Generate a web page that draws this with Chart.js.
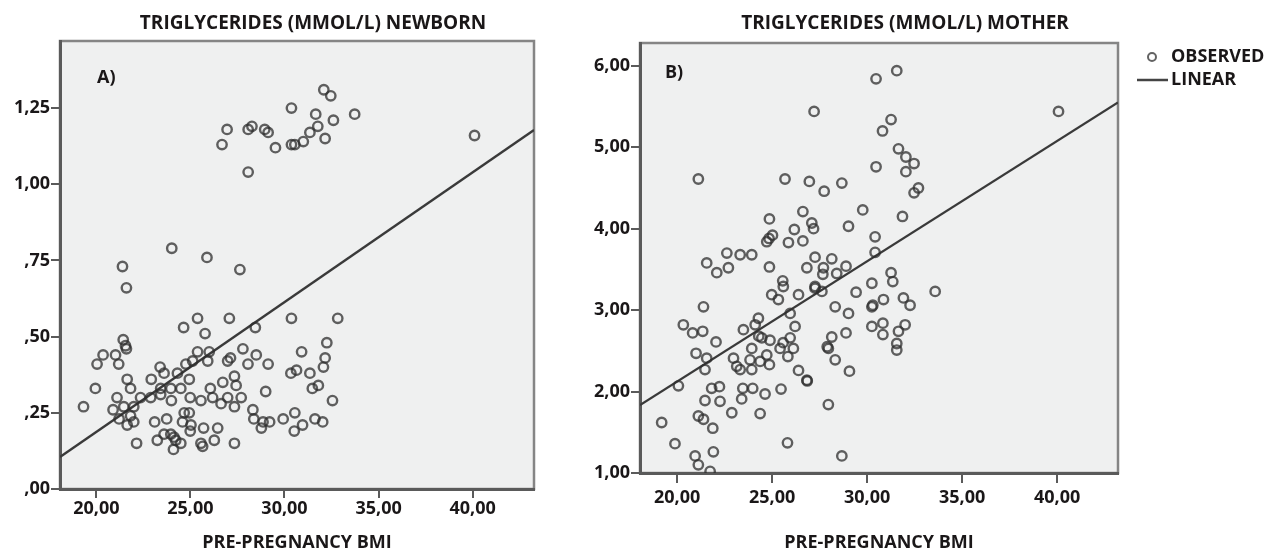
<!DOCTYPE html>
<html>
<head>
<meta charset="utf-8">
<script src="https://cdn.jsdelivr.net/npm/chart.js@4"></script>
<style>
  body { margin: 0; background: #fff; }
  #wrap { position: relative; width: 1274px; height: 554px; }
  #chartA { position: absolute; left: 0; top: 0; }
  #chartB { position: absolute; left: 560px; top: 0; }
</style>
</head>
<body>
<div id="wrap">
  <canvas id="chartA" width="560" height="554"></canvas>
  <canvas id="chartB" width="714" height="554"></canvas>
</div>
<script>
// pre-pregnancy BMI vs newborn triglycerides (panel A)
const bmiA = [40.1, 21.39, 21.6, 24.01, 25.88, 27.63, 26.68, 26.95, 28.07, 28.27, 28.07, 28.95, 29.13, 29.52,
  30.37, 30.37, 30.55, 31.0, 31.35, 31.66, 31.77, 32.16, 32.09, 32.46, 32.6, 33.73,
  25.38, 27.07, 30.37, 32.83, 24.64, 28.45, 25.78, 21.43, 21.55, 21.6, 32.25, 20.36, 21.02, 20.04, 21.19,
  25.38, 26.0, 25.92, 25.12, 24.76, 27.79, 28.5, 27.13, 26.98, 28.06, 29.13, 30.91, 32.16, 32.07, 30.34,
  30.64, 31.35, 31.8, 31.48, 32.55, 29.0, 23.39, 23.6, 24.31, 24.94, 22.92, 21.64, 19.95, 21.82, 23.42,
  23.96, 24.49, 26.06, 26.72, 27.34, 27.43, 21.1, 22.35, 22.89, 23.42, 23.99, 24.99, 25.56, 26.18, 26.63,
  26.98, 27.7, 27.34, 19.32, 20.89, 21.46, 21.99, 21.82, 28.32, 24.67, 24.94, 30.55, 21.21, 21.64, 21.99,
  23.1, 23.74, 24.58, 25.03, 25.7, 26.45, 28.37, 28.86, 28.77, 29.21, 29.93, 30.96, 30.52, 31.62, 32.03,
  24.99, 22.14, 23.24, 23.6, 23.96, 24.13, 24.22, 24.49, 24.1, 25.56, 25.65, 26.27, 27.34];
const tgA = [1.16, 0.73, 0.66, 0.79, 0.76, 0.72, 1.13, 1.18, 1.18, 1.19, 1.04, 1.18, 1.17, 1.12,
  1.25, 1.13, 1.13, 1.14, 1.17, 1.23, 1.19, 1.15, 1.31, 1.29, 1.21, 1.23,
  0.56, 0.56, 0.56, 0.56, 0.53, 0.53, 0.51, 0.49, 0.47, 0.46, 0.48, 0.44, 0.44, 0.41, 0.41,
  0.45, 0.45, 0.42, 0.42, 0.41, 0.46, 0.44, 0.43, 0.42, 0.41, 0.41, 0.45, 0.43, 0.40, 0.38,
  0.39, 0.38, 0.34, 0.33, 0.29, 0.32, 0.40, 0.38, 0.38, 0.36, 0.36, 0.36, 0.33, 0.33, 0.33,
  0.33, 0.33, 0.33, 0.35, 0.37, 0.34, 0.30, 0.30, 0.30, 0.31, 0.29, 0.30, 0.29, 0.30, 0.28,
  0.30, 0.30, 0.27, 0.27, 0.26, 0.27, 0.27, 0.24, 0.26, 0.25, 0.25, 0.25, 0.23, 0.21, 0.22,
  0.22, 0.23, 0.22, 0.21, 0.20, 0.20, 0.23, 0.22, 0.20, 0.22, 0.23, 0.21, 0.19, 0.23, 0.22,
  0.19, 0.15, 0.16, 0.18, 0.18, 0.17, 0.16, 0.15, 0.13, 0.15, 0.14, 0.16, 0.15];
const fitA = [[18.07, 0.105], [43.26, 1.178]];

// pre-pregnancy BMI vs maternal triglycerides (panel B)
const bmiB = [21.12, 27.21, 30.47, 31.56, 31.26, 30.81, 31.65, 32.04, 32.47, 32.04, 30.47, 32.7, 32.47, 40.07,
  25.68, 26.96, 27.74, 28.67, 31.86, 29.77, 24.86, 26.62, 27.09, 27.18, 26.17, 29.02, 30.42, 25.02, 24.84,
  24.72, 25.86, 26.62, 30.42, 22.62, 23.32, 23.93, 21.56, 22.7, 22.09, 24.86, 27.26, 28.14, 26.83, 27.7,
  27.67, 28.89, 28.4, 31.26, 31.35, 30.25, 25.56, 25.59, 27.26, 33.58, 29.42,
  21.39, 20.33, 20.82, 21.35, 21.0, 21.56, 21.47, 22.05, 20.07, 21.82, 22.23, 21.47, 22.26, 19.19, 21.12,
  21.39, 21.88, 19.89, 21.91, 20.95, 21.12, 21.74, 22.88, 23.46, 23.4, 23.98, 24.37, 24.63, 25.47, 25.81,
  27.96, 28.67, 29.07, 26.83, 26.39, 28.32, 27.96, 28.14, 28.89, 28.32, 29.02, 30.25, 30.25, 30.83, 30.86,
  30.83, 31.91, 32.26, 32.0, 31.65, 31.56, 31.56, 22.97, 23.14, 23.32, 23.93, 23.84, 23.93, 23.49, 24.11,
  24.28, 24.46, 24.37, 24.89, 24.86, 24.72, 24.98, 25.33, 25.42, 25.95, 26.21, 25.95, 26.12, 25.83, 26.39,
  27.26, 27.62, 24.3, 25.58, 26.85, 27.9, 30.3];
const tgB = [4.61, 5.44, 5.84, 5.94, 5.34, 5.20, 4.98, 4.88, 4.80, 4.70, 4.76, 4.50, 4.44, 5.44,
  4.61, 4.58, 4.46, 4.56, 4.15, 4.23, 4.12, 4.21, 4.07, 4.00, 3.99, 4.03, 3.90, 3.92, 3.88,
  3.84, 3.83, 3.85, 3.71, 3.70, 3.68, 3.68, 3.58, 3.52, 3.46, 3.53, 3.65, 3.63, 3.52, 3.52,
  3.44, 3.54, 3.45, 3.46, 3.35, 3.33, 3.36, 3.29, 3.29, 3.23, 3.22,
  3.04, 2.82, 2.72, 2.74, 2.47, 2.41, 2.27, 2.61, 2.07, 2.04, 2.06, 1.89, 1.88, 1.62, 1.70,
  1.66, 1.55, 1.36, 1.26, 1.21, 1.10, 1.02, 1.74, 2.04, 1.91, 2.04, 1.73, 1.97, 2.03, 1.37,
  1.84, 1.21, 2.25, 2.14, 2.26, 2.39, 2.53, 2.67, 2.72, 3.04, 2.96, 3.04, 2.80, 2.84, 3.13,
  2.70, 3.15, 3.06, 2.82, 2.74, 2.59, 2.51, 2.41, 2.31, 2.27, 2.27, 2.39, 2.53, 2.76, 2.82,
  2.90, 2.66, 2.37, 2.63, 2.33, 2.45, 3.19, 3.13, 2.53, 2.96, 2.80, 2.66, 2.53, 2.43, 3.19,
  3.27, 3.23, 2.68, 2.60, 2.13, 2.55, 3.06];
const fitB = [[18.05, 1.835], [43.2, 5.55]];

const xTickVals = [20, 25, 30, 35, 40];
const xTickLabels = ['20,00', '25,00', '30,00', '35,00', '40,00'];
const yTickValsA = [0, 0.25, 0.5, 0.75, 1, 1.25];
const yTickLabelsA = [',00', ',25', ',50', ',75', '1,00', '1,25'];
const yTickValsB = [1, 2, 3, 4, 5, 6];
const yTickLabelsB = ['1,00', '2,00', '3,00', '4,00', '5,00', '6,00'];
const legendLabels = ['OBSERVED', 'LINEAR'];

const INK = '#1a1718';
const AXIS = '#5a5a5a';
const FONT = "'Open Sans', 'Noto Sans', sans-serif";
const FS = 18;

Chart.defaults.font.family = FONT;
Chart.defaults.font.weight = 'bold';
Chart.defaults.color = INK;

// plot background, frame, titles, panel letters and legend
const panelDecor = {
  id: 'panelDecor',
  beforeDraw(chart) {
    const { ctx, chartArea: a } = chart;
    ctx.save();
    ctx.fillStyle = '#eff0f0';
    ctx.fillRect(a.left, a.top, a.width, a.height);
    ctx.strokeStyle = '#858585';
    ctx.lineWidth = 2.5;
    ctx.strokeRect(a.left, a.top, a.width, a.height);
    ctx.restore();
  },
  afterDraw(chart, args, opts) {
    const { ctx, chartArea: a } = chart;
    ctx.save();
    ctx.fillStyle = INK;
    ctx.font = `bold 19px ${FONT}`;
    ctx.textBaseline = 'middle';
    ctx.textAlign = 'center';
    ctx.fillText(opts.title, a.left + opts.titleDx, 24);
    ctx.font = `bold ${FS}px ${FONT}`;
    ctx.textAlign = 'left';
    ctx.fillText(opts.letter, a.left + opts.letterDx, a.top + opts.letterDy);
    if (opts.legend) {
      const x = a.right;
      ctx.strokeStyle = 'rgba(60,60,60,0.8)';
      ctx.lineWidth = 2;
      ctx.beginPath();
      ctx.arc(x + 34, 57, 4, 0, Math.PI * 2);
      ctx.stroke();
      ctx.strokeStyle = '#444';
      ctx.lineWidth = 2.5;
      ctx.beginPath();
      ctx.moveTo(x + 19, 80);
      ctx.lineTo(x + 50, 80);
      ctx.stroke();
      ctx.fillText(legendLabels[0], x + 53, 57);
      ctx.fillText(legendLabels[1], x + 53, 80);
    }
    ctx.restore();
  },
};

function makePanel(id, bmi, tg, fit, yMin, yMax, yVals, yLabels, lay, deco) {
  const points = bmi.map((x, i) => ({ x, y: tg[i] }));
  return new Chart(document.getElementById(id), {
    type: 'scatter',
    data: {
      datasets: [
        {
          label: legendLabels[0],
          data: points,
          pointStyle: 'circle',
          pointRadius: 4.7,
          pointBorderWidth: 2.4,
          pointBackgroundColor: 'rgba(0,0,0,0)',
          pointBorderColor: 'rgba(45,45,45,0.75)',
        },
        {
          type: 'line',
          label: legendLabels[1],
          data: fit.map((p) => ({ x: p[0], y: p[1] })),
          borderColor: '#3a3a3a',
          borderWidth: 2.3,
          pointRadius: 0,
        },
      ],
    },
    options: {
      responsive: false,
      animation: false,
      events: [],
      layout: { padding: { left: 0, top: lay.top, right: lay.right, bottom: 0 } },
      plugins: {
        legend: { display: false },
        tooltip: { enabled: false },
        panelDecor: deco,
      },
      scales: {
        x: {
          type: 'linear',
          min: lay.xMin,
          max: lay.xMax,
          afterBuildTicks: (s) => { s.ticks = xTickVals.map((v) => ({ value: v })); },
          afterFit: (s) => { s.height = lay.xH; },
          ticks: {
            callback: (v, i) => xTickLabels[i],
            padding: lay.xPad,
            maxRotation: 0,
            autoSkip: false,
            font: { size: FS, weight: 'bold' },
            color: INK,
          },
          grid: { drawOnChartArea: false, drawTicks: true, tickLength: lay.xTick, color: AXIS, lineWidth: 2 },
          border: { color: AXIS, width: 3 },
          title: {
            display: true,
            text: 'PRE-PREGNANCY BMI',
            font: { size: FS, weight: 'bold' },
            color: INK,
            padding: { top: 0, bottom: 0 },
          },
        },
        y: {
          type: 'linear',
          min: yMin,
          max: yMax,
          afterBuildTicks: (s) => { s.ticks = yVals.map((v) => ({ value: v })); },
          afterFit: (s) => { s.width = lay.yW; },
          ticks: {
            callback: (v, i) => yLabels[i],
            padding: 1,
            font: { size: FS, weight: 'bold' },
            color: INK,
          },
          grid: { drawOnChartArea: false, drawTicks: true, tickLength: 9, color: AXIS, lineWidth: 2 },
          border: { color: AXIS, width: 3 },
        },
      },
    },
    plugins: [panelDecor],
  });
}

makePanel('chartA', bmiA, tgA, fitA, 0, 1.47, yTickValsA, yTickLabelsA,
  { top: 41, right: 26, yW: 60, xH: 65, xMin: 18.07, xMax: 43.26, xTick: 9, xPad: 0 },
  { title: 'TRIGLYCERIDES (MMOL/L) NEWBORN', titleDx: 253, letter: 'A)', letterDx: 37, letterDy: 37, legend: false });

makePanel('chartB', bmiB, tgB, fitB, 1, 6.28, yTickValsB, yTickLabelsB,
  { top: 43, right: 156, yW: 80, xH: 81, xMin: 18.05, xMax: 43.2, xTick: 10, xPad: 4 },
  { title: 'TRIGLYCERIDES (MMOL/L) MOTHER', titleDx: 265, letter: 'B)', letterDx: 25, letterDy: 30, legend: true });
</script>
</body>
</html>
